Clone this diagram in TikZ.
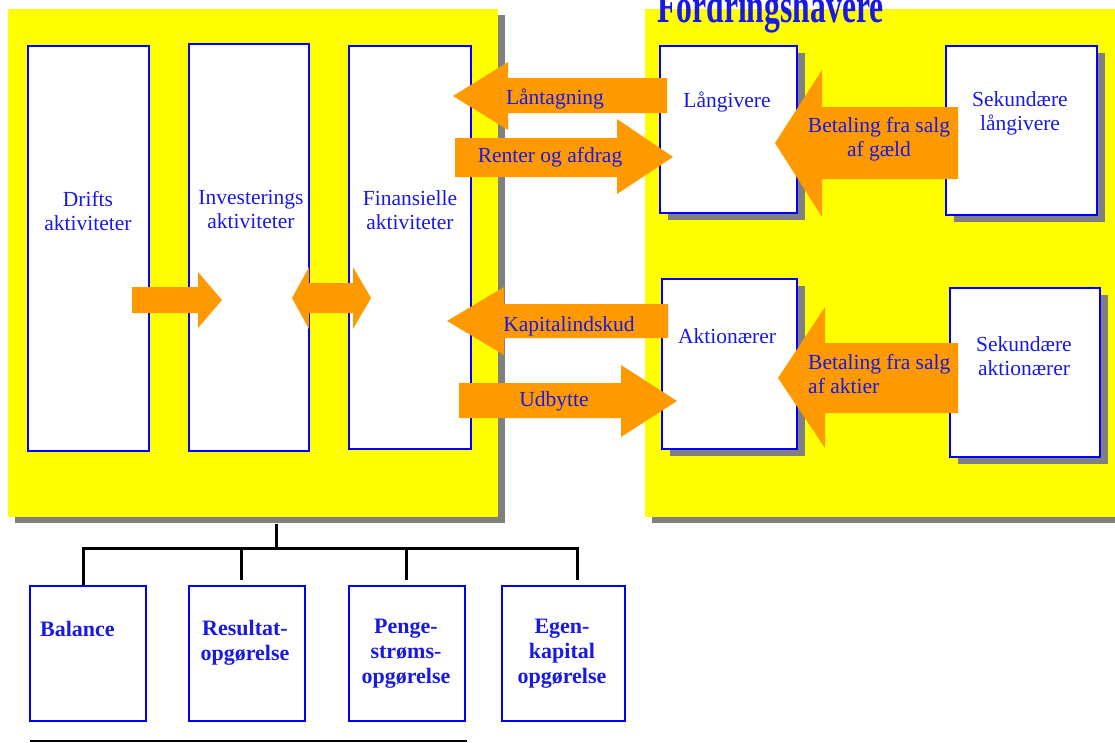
\documentclass[tikz,border=0pt]{standalone}
\usepackage{fontspec}
\setmainfont{Liberation Serif}
\usetikzlibrary{shadows}
\definecolor{ylw}{RGB}{255,255,0}
\definecolor{org}{RGB}{255,153,0}
\definecolor{bl}{RGB}{0,0,255}
\definecolor{tx}{RGB}{25,25,230}
\definecolor{shd}{RGB}{128,128,128}
\begin{document}
\begin{tikzpicture}[x=1pt,y=-1pt,
  panel/.style={fill=ylw, draw=none, anchor=north west, inner sep=0pt},
  pshadow/.style={drop shadow={shadow xshift=7pt, shadow yshift=-6pt, fill=shd, opacity=1}},
  bshadow/.style={drop shadow={shadow xshift=8pt, shadow yshift=-7pt, fill=shd, opacity=1}},
  box/.style={draw=bl, fill=white, line width=1.8pt, anchor=north west, inner sep=0pt},
  lbl/.style={text=tx, font=\fontsize{21.5}{24}\selectfont, align=center, inner sep=0pt},
  blbl/.style={text=tx, font=\fontsize{22}{25}\selectfont\bfseries, align=center, inner sep=0pt},
  ttl/.style={text=tx, font=\fontsize{48}{50}\selectfont\bfseries, inner sep=0pt, anchor=base west},
  arr/.style={fill=org, draw=none},
  tree/.style={line width=3pt, black}]
\useasboundingbox (0,0) rectangle (1115,742);

% panels
\node[panel, pshadow, minimum width=490pt, minimum height=508pt] (L) at (8,9) {};
\node[panel, pshadow, minimum width=490pt, minimum height=508pt] (R) at (645,9) {};
\node[ttl] (title) at (657,22) {\scalebox{0.66}[1]{Fordringshavere}};

% left boxes
\node[box, minimum width=121pt, minimum height=405pt] (drift) at (27,45) {};
\node[box, minimum width=120pt, minimum height=407pt] (inv) at (188,43) {};
\node[box, minimum width=122pt, minimum height=403pt] (fin) at (348,45) {};
\node[lbl] (tdrift) at (88,211) {Drifts\\aktiviteter};
\node[lbl] (tinv) at (251,209) {Investerings\\aktiviteter};
\node[lbl] (tfin) at (410,210) {Finansielle\\aktiviteter};

% right boxes
\node[box, bshadow, minimum width=137pt, minimum height=167pt] (lang) at (659,45) {};
\node[box, bshadow, minimum width=151pt, minimum height=169pt] (sekl) at (945,45) {};
\node[box, bshadow, minimum width=135pt, minimum height=170pt] (akt) at (661,278) {};
\node[box, bshadow, minimum width=150pt, minimum height=169pt] (seka) at (949,287) {};
\node[lbl] (tlang) at (727,102) {Långivere};
\node[lbl] (tsekl) at (1020,113) {Sekundære\\långivere};
\node[lbl] (takt) at (727,336) {Aktionærer};
\node[lbl] (tseka) at (1024,356) {Sekundære\\aktionærer};

% block arrows
\fill[arr] (132,287) -- (198,287) -- (198,272) -- (222,300) -- (198,328) -- (198,313) -- (132,313) -- cycle;
\fill[arr] (292,298) -- (309,267) -- (309,283) -- (353,283) -- (353,267) -- (371,298) -- (353,329) -- (353,313) -- (309,313) -- (309,329) -- cycle;
\fill[arr] (453,96) -- (508,62) -- (508,78) -- (667,78) -- (667,113) -- (508,113) -- (508,130) -- cycle;
\fill[arr] (455,138) -- (617,138) -- (617,119) -- (673,157) -- (617,194) -- (617,177) -- (455,177) -- cycle;
\fill[arr] (447,321) -- (504,287) -- (504,304) -- (668,304) -- (668,338) -- (504,338) -- (504,355) -- cycle;
\fill[arr] (459,383) -- (621,383) -- (621,365) -- (677,401) -- (621,437) -- (621,418) -- (459,418) -- cycle;
\fill[arr] (775,143) -- (822,70) -- (822,107) -- (958,107) -- (958,179) -- (822,179) -- (822,217) -- cycle;
\fill[arr] (778,378) -- (825,307) -- (825,343) -- (958,343) -- (958,413) -- (825,413) -- (825,448) -- cycle;

\node[lbl] (tlaan) at (555,99) {Låntagning};
\node[lbl] (trent) at (550,157) {Renter og afdrag};
\node[lbl] (tkap) at (569,326) {Kapitalindskud};
\node[lbl] (tudb) at (554,401) {Udbytte};
\node[lbl] (tbg) at (879,139) {Betaling fra salg\\af gæld};
\node[lbl, align=left, anchor=west] (tba) at (808,374) {Betaling fra salg\\af aktier};

% bottom boxes
\node[box, minimum width=116pt, minimum height=135pt] (bal) at (29,585) {};
\node[box, minimum width=116pt, minimum height=135pt] (res) at (188,585) {};
\node[box, minimum width=116pt, minimum height=135pt] (pen) at (348,585) {};
\node[box, minimum width=123pt, minimum height=135pt] (egen) at (501,585) {};
\node[blbl, anchor=west] (tbal) at (40,629) {Balance};
\node[blbl] (tres) at (245,643) {Resultat-\\opgørelse};
\node[blbl] (tpen) at (406,654) {Penge-\\strøms-\\opgørelse};
\node[blbl] (tegen) at (562,654) {Egen-\\kapital\\opgørelse};

% tree
\coordinate (trunk) at (276,548);
\coordinate (c1) at (83,548);
\coordinate (c2) at (241,548);
\coordinate (c3) at (406,548);
\coordinate (c4) at (577,548);
\draw[tree, shorten <=7pt] (trunk |- L.south) -- (trunk);
\draw[tree] ([xshift=-1.5pt]c1) -- ([xshift=1.5pt]c4);
\draw[tree] (c1) -- (c1 |- bal.north);
\draw[tree, shorten >=5pt] (c2) -- (c2 |- res.north);
\draw[tree, shorten >=5pt] (c3) -- (c3 |- pen.north);
\draw[tree, shorten >=5pt] (c4) -- (c4 |- egen.north);

% bottom line
\coordinate (bl1) at (30,741);
\coordinate (bl2) at (467,741);
\draw[line width=1.5pt] (bl1) -- (bl2);
\end{tikzpicture}
\end{document}
